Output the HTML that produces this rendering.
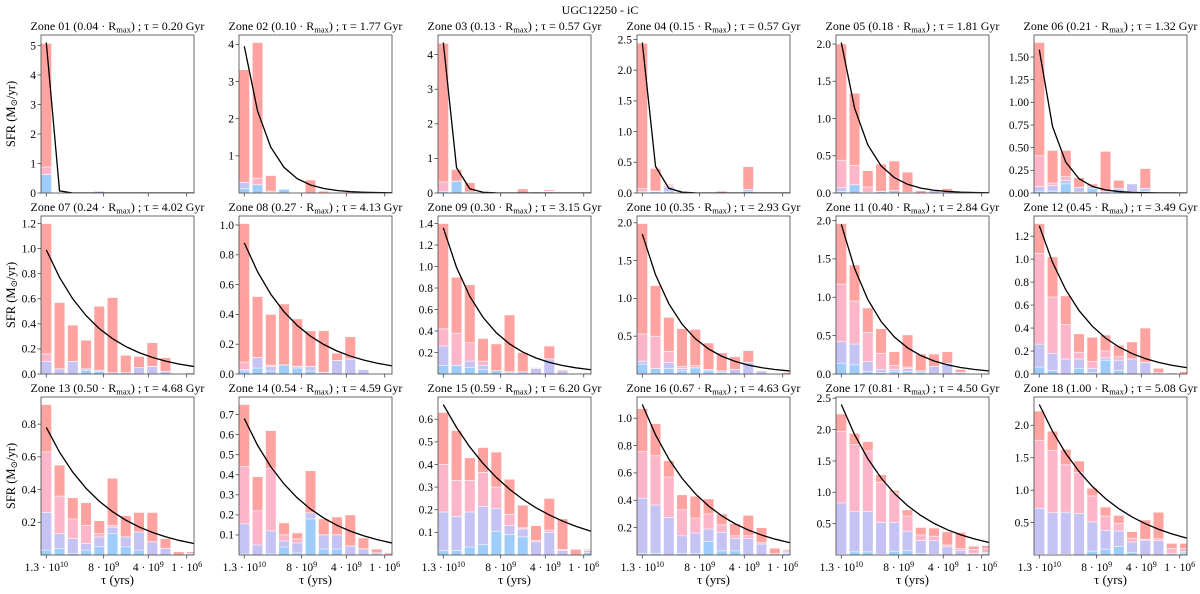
<!DOCTYPE html>
<html><head><meta charset="utf-8">
<style>
html,body{margin:0;padding:0;background:#fff;}
svg{display:block;}
svg text{font-family:"Liberation Serif","DejaVu Serif",serif;}
</style></head>
<body>
<svg id="fig" width="1200" height="594" viewBox="0 0 1200 594" xmlns="http://www.w3.org/2000/svg" font-family="Liberation Serif, DejaVu Serif, serif">
<text x="600" y="14" text-anchor="middle" font-size="12">UGC12250 - iC</text>
</svg>
<script>
const zoneRadius = ["0.04","0.10","0.13","0.15","0.18","0.21","0.24","0.27","0.30","0.35","0.40","0.45","0.50","0.54","0.59","0.67","0.81","1.00"];
const zoneTau = ["0.20","1.77","0.57","0.57","1.81","1.32","4.02","4.13","3.15","2.93","2.84","3.49","4.68","4.59","6.20","4.63","4.50","5.08"];
const totals = [
[5.07,0.02,0,0,0.06,0,0,0.03,0,0,0,0.02],
[3.32,4.05,0.47,0.1,0,0.35,0.05,0.02,0.03,0.01,0.01,0.01],
[4.33,0.68,0.3,0.01,0,0,0.12,0.03,0.09,0,0,0],
[2.44,0.4,0.14,0,0.01,0,0.03,0.01,0.43,0,0,0],
[2.0,1.34,0.3,0.39,0.43,0.28,0.03,0.03,0.06,0.01,0.01,0.01],
[1.66,0.47,0.47,0.17,0.1,0.46,0.14,0.1,0.27,0.01,0.01,0.01],
[1.2,0.57,0.39,0.27,0.54,0.61,0.15,0.14,0.25,0.13,0,0.01],
[1.01,0.52,0.4,0.47,0.37,0.29,0.29,0.14,0.25,0.03,0,0],
[1.4,0.9,0.83,0.33,0.28,0.55,0.2,0.06,0.26,0.04,0,0.01],
[1.99,1.17,0.75,0.6,0.59,0.41,0.28,0.23,0.31,0.04,0,0.02],
[1.96,1.42,0.86,0.59,0.29,0.51,0.26,0.26,0.29,0.06,0.01,0],
[1.31,1.02,0.68,0.35,0.32,0.34,0.25,0.28,0.4,0.05,0.01,0.02],
[0.92,0.55,0.35,0.32,0.21,0.47,0.24,0.26,0.26,0.1,0.02,0.02],
[0.75,0.39,0.62,0.16,0.11,0.42,0.18,0.19,0.2,0.085,0.03,0.01],
[0.63,0.55,0.43,0.475,0.455,0.335,0.22,0.13,0.25,0.16,0.025,0.025],
[1.07,0.96,0.69,0.44,0.43,0.41,0.3,0.23,0.29,0.2,0.05,0.04],
[2.25,1.94,1.81,1.28,1.03,0.72,0.44,0.43,0.37,0.36,0.14,0.15],
[2.22,1.91,1.63,1.45,1.03,0.74,0.61,0.36,0.54,0.66,0.18,0.18]
];
const pinkTops = [
[0.88,0.02,0,0,0.06,0,0,0.03,0,0,0,0],
[0.28,0.4,0.05,0.1,0,0,0,0,0,0,0,0],
[0.32,0.34,0.03,0,0,0,0,0,0.05,0,0,0],
[0.07,0.03,0.12,0,0,0,0,0,0.06,0,0,0],
[0.44,0.37,0.08,0.02,0.03,0.01,0,0.03,0.02,0,0,0],
[0.41,0.11,0.18,0.06,0.07,0.02,0.05,0.1,0.05,0,0,0],
[0.16,0.04,0.1,0.04,0.03,0.01,0.01,0.05,0.06,0.02,0,0],
[0.08,0.11,0.06,0.06,0.05,0.05,0.01,0.09,0.1,0.03,0,0],
[0.42,0.38,0.29,0.12,0.03,0.02,0.02,0.05,0.14,0.03,0,0],
[0.53,0.5,0.3,0.1,0.11,0.06,0.04,0.06,0.15,0.04,0,0],
[1.17,0.95,0.54,0.27,0.11,0.09,0.04,0.1,0.14,0.02,0,0],
[1.05,0.67,0.43,0.19,0.11,0.2,0.15,0.13,0.1,0.01,0,0],
[0.63,0.36,0.22,0.18,0.13,0.18,0.11,0.14,0.08,0.04,0,0.01],
[0.44,0.22,0.43,0.1,0.08,0.21,0.1,0.1,0.045,0.03,0.01,0],
[0.4,0.33,0.33,0.365,0.3,0.18,0.12,0.065,0.11,0.025,0,0.02],
[0.755,0.725,0.57,0.33,0.27,0.3,0.22,0.14,0.14,0.09,0.01,0.03],
[1.97,1.76,1.66,1.16,0.99,0.62,0.32,0.3,0.16,0.1,0.09,0.1],
[1.77,1.61,1.39,1.27,0.91,0.6,0.49,0.26,0.24,0.25,0.1,0.1]
];
const lavTops = [
[0.62,0,0,0,0.06,0,0,0.03,0,0,0,0],
[0.28,0.22,0.02,0.1,0,0,0,0,0,0,0,0],
[0.05,0.34,0.02,0,0,0,0,0,0.05,0,0,0],
[0.02,0.03,0.1,0,0,0,0,0,0.06,0,0,0],
[0.07,0.11,0.01,0.02,0.03,0.01,0,0.03,0.02,0,0,0],
[0.07,0.08,0.14,0.06,0.07,0.02,0.05,0.1,0.05,0,0,0],
[0.1,0.04,0.1,0.04,0.03,0.01,0.01,0.05,0.06,0.02,0,0],
[0.03,0.11,0.05,0.06,0.05,0.05,0.01,0.09,0.1,0.03,0,0],
[0.26,0.08,0.12,0.08,0.03,0.02,0.02,0.05,0.14,0.03,0,0],
[0.17,0.07,0.15,0.07,0.08,0.06,0.04,0.06,0.15,0.04,0,0],
[0.42,0.39,0.16,0.06,0.06,0.07,0.04,0.1,0.14,0.02,0,0],
[0.26,0.18,0.13,0.13,0.05,0.14,0.12,0.13,0.1,0.01,0,0],
[0.26,0.13,0.1,0.07,0.11,0.17,0.11,0.14,0.08,0.04,0,0.01],
[0.155,0.05,0.12,0.07,0.06,0.21,0.1,0.1,0.045,0.03,0.01,0],
[0.19,0.17,0.19,0.215,0.205,0.13,0.115,0.058,0.1,0.02,0,0.02],
[0.415,0.365,0.275,0.14,0.16,0.19,0.165,0.12,0.12,0.08,0,0.02],
[0.83,0.69,0.69,0.52,0.52,0.38,0.23,0.23,0.13,0.07,0.02,0.04],
[0.72,0.65,0.66,0.64,0.51,0.38,0.37,0.2,0.23,0.22,0.02,0.05]
];
const blueTops = [
[0.62,0,0,0,0,0,0,0,0,0,0,0],
[0.12,0.22,0,0.1,0,0,0,0,0,0,0,0],
[0.05,0.34,0,0,0,0,0,0,0.03,0,0,0],
[0.01,0.02,0.03,0,0,0,0,0,0.03,0,0,0],
[0.02,0.11,0,0.02,0.03,0,0,0,0,0,0,0],
[0.02,0.02,0.1,0.01,0.05,0,0.02,0,0.02,0,0,0],
[0,0,0,0.03,0.02,0,0,0,0,0,0,0],
[0.02,0.04,0.02,0.06,0.04,0.02,0,0,0,0,0,0],
[0.08,0.08,0.06,0.04,0.03,0.01,0,0,0,0,0,0],
[0.13,0.07,0.07,0.04,0.08,0.04,0.02,0,0,0,0,0],
[0.14,0.12,0.03,0.02,0.03,0.03,0.02,0,0,0,0,0],
[0.06,0.03,0,0.05,0.01,0.12,0.03,0,0,0,0,0],
[0.03,0.04,0.01,0.03,0.05,0.13,0.05,0.03,0,0,0,0],
[0.005,0,0.005,0.04,0.01,0.18,0.03,0.03,0,0,0,0],
[0.02,0.02,0.035,0.045,0.105,0.09,0.08,0,0,0,0,0.01],
[0.01,0.01,0,0.01,0.01,0.1,0.03,0.03,0,0,0,0.01],
[0.01,0.05,0.05,0.01,0.06,0.07,0.02,0.01,0,0,0,0.02],
[0.01,0.01,0.01,0,0.06,0.09,0.13,0.04,0,0,0,0.03]
];
const curveStart = [5.1,3.95,4.35,2.45,2.02,1.58,0.99,0.88,1.36,1.85,1.95,1.29,0.78,0.68,0.665,1.1,2.4,2.32];
const curveEnd = [1e-20,0.006,1e-8,1e-8,0.0035,0.0003,0.06,0.055,0.04,0.04,0.04,0.055,0.07,0.06,0.105,0.09,0.2,0.26];
const yTickStart = [0,1,0,0,0,0,0,0,0.2,0.5,0,0,0.2,0.1,0.1,0.2,0.5,0.5];
const yTickStep = [1,1,1,0.5,0.5,0.25,0.2,0.2,0.2,0.5,0.5,0.2,0.2,0.1,0.1,0.2,0.5,0.5];
const yTickDec = [0,0,0,1,1,2,1,1,1,1,1,1,1,1,1,1,1,1];
const xTickPos = [0,4.33,7.7,10.6];
const xTickBase = ["1.3 · 10","8 · 10","4 · 10","1 · 10"];
const xTickExp = ["10","9","9","6"];

const NS="http://www.w3.org/2000/svg";
const svg=document.getElementById('fig');
const FF="Liberation Serif, DejaVu Serif, serif";
const lefts=[41,239,438,637,836,1034], tops=[35,216,397], PW=153, PH=158;
const XMIN=-0.4, XMAX=11.15;
const colors=["#fea39f","#fdb5ca","#c5c2f4","#9ecdfc"];
function mk(tag,attrs,parent){const e=document.createElementNS(NS,tag);for(const k in attrs)e.setAttribute(k,attrs[k]);if(tag==='text')e.setAttribute('font-family',FF);(parent||svg).appendChild(e);return e;}

for(let z=0;z<18;z++){
  const col=z%6,row=Math.floor(z/6);
  const L=lefts[col],T=tops[row];
  const tot=totals[z];
  const ymax=1.05*Math.max(Math.max(...tot),curveStart[z]);
  const xs=v=>L+(v-XMIN)/(XMAX-XMIN)*PW;
  const ys=v=>T+PH-(v/ymax)*PH;
  const g=mk('g',{});
  
  
  const clipId='c'+z;
  const cp=mk('clipPath',{id:clipId},g);
  mk('rect',{x:L,y:T,width:PW,height:PH},cp);
  const bars=mk('g',{'clip-path':'url(#'+clipId+')'},g);
  const layers=[totals[z],pinkTops[z],lavTops[z],blueTops[z]];
  const lnames=['old','intermediate','young','youngest'];
  for(let i=0;i<12;i++){
    for(let k=0;k<4;k++){
      const v=layers[k][i]; if(v<=0)continue;
      const r=mk('rect',{x:xs(i-0.4),y:ys(v),width:xs(i+0.4)-xs(i-0.4),height:ys(0)-ys(v),fill:colors[k],stroke:'#fff','stroke-width':0.6},bars);
      
      
    }
  }
  const c0=curveStart[z],c1=curveEnd[z];
  const pts=[];
  for(let i=0;i<=11;i++){const v=c0*Math.pow(c1/c0,i/XMAX);pts.push(xs(i)+','+ys(v));}
  pts.push(xs(XMAX)+','+ys(c1));
  const pl=mk('polyline',{points:pts.join(' '),fill:'none',stroke:'#000','stroke-width':1.3},bars);
  
  
  const fr=mk('rect',{x:L,y:T,width:PW,height:PH,fill:'none',stroke:'#444','stroke-width':0.8},g);
  
  
  for(let t=yTickStart[z];t<=ymax+1e-9;t+=yTickStep[z]){
    const y=ys(t);
    mk('line',{x1:L-3.5,x2:L,y1:y,y2:y,stroke:'#444','stroke-width':0.8},g);
    const tx=mk('text',{x:L-5,y:y+3.8,'text-anchor':'end','font-size':11.5},g);
    tx.textContent=t.toFixed(yTickDec[z]);
    
    
  }
  for(let j=0;j<xTickPos.length;j++){
    const x=xs(xTickPos[j]);
    mk('line',{x1:x,x2:x,y1:T+PH,y2:T+PH+3.5,stroke:'#444','stroke-width':0.8},g);
    if(row===2){
      const tx=mk('text',{x:x,y:T+PH+16,'text-anchor':'middle','font-size':11.5},g);
      
      
      tx.appendChild(document.createTextNode(xTickBase[j]));
      const sp=mk('tspan',{'font-size':8,dy:-4},tx);sp.textContent=xTickExp[j];
    }
  }
  const tt=mk('text',{x:L+PW/2,y:T-5,'text-anchor':'middle','font-size':12},g);
  
  
  tt.appendChild(document.createTextNode('Zone '+String(z+1).padStart(2,'0')+' ('+zoneRadius[z]+' · R'));
  const sb=mk('tspan',{'font-size':8.5,dy:2.5},tt);sb.textContent='max';
  const rest=mk('tspan',{dy:-2.5},tt);rest.textContent=') ; τ = '+zoneTau[z]+' Gyr';
  if(col===0){
    const yl=mk('text',{transform:'translate(15,'+(T+PH/2)+') rotate(-90)','text-anchor':'middle','font-size':12.5},g);
    
    
    yl.appendChild(document.createTextNode('SFR (M'));
    const s=mk('tspan',{'font-size':9,dy:2},yl);s.textContent='⊙';
    const r2=mk('tspan',{dy:-2},yl);r2.textContent='/yr)';
  }
  if(row===2){
    const xl=mk('text',{x:L+PW/2,y:584,'text-anchor':'middle','font-size':13},g);
    xl.textContent='τ (yrs)';
    
    
  }
}
</script>
</body></html>
